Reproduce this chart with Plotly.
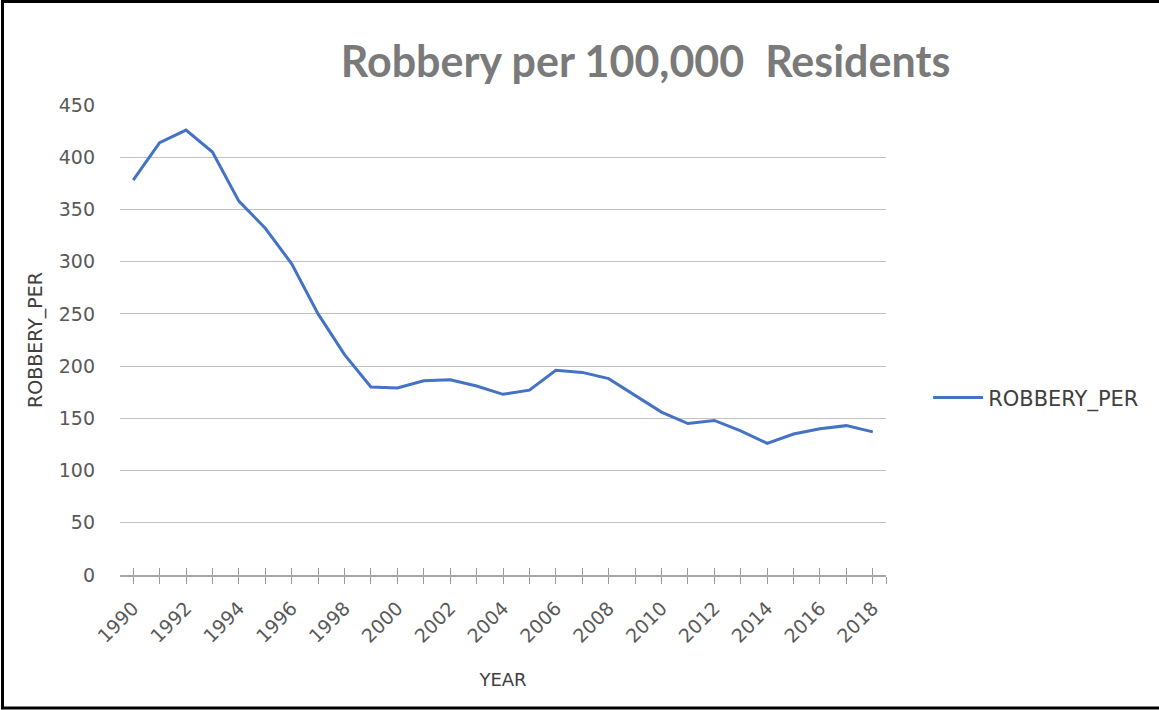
import plotly.graph_objects as go

# Robbery rate per 100,000 residents, 1990-2018
years = list(range(1990, 2019))
robbery_per = [378, 414, 426, 405, 358, 332, 298, 250, 211, 180,
               179, 186, 187, 181, 173, 177, 196, 194, 188, 172,
               156, 145, 148, 138, 126, 135, 140, 143, 137]
y_ticks = [0, 50, 100, 150, 200, 250, 300, 350, 400, 450]

tick_font = dict(family="DejaVu Sans", size=19, color="#595959")
x_range = [1989.5, 2018.5]

fig = go.Figure()
fig.add_trace(go.Scatter(
    x=years, y=robbery_per, mode="lines", name="ROBBERY_PER",
    line=dict(color="#4472C4", width=3), showlegend=True,
))
# hidden copy on the overlay axis so its inward tick marks render
fig.add_trace(go.Scatter(
    x=years, y=robbery_per, mode="lines", xaxis="x2",
    line=dict(width=0, color="rgba(0,0,0,0)"), showlegend=False, hoverinfo="skip",
))

tickvals = years + [2018.5]
ticktext = [str(y) if y % 2 == 0 else "" for y in years] + [""]

fig.update_layout(
    width=1159, height=710,
    paper_bgcolor="white", plot_bgcolor="white",
    margin=dict(l=120, r=273, t=105, b=135),
    title=dict(text="<b>Robbery per 100,000  Residents</b>",
               font=dict(family="Lato", size=43, color="#7a7a7a"),
               x=0.557, xanchor="center", y=0.913, yanchor="middle"),
    xaxis=dict(
        range=x_range, tickmode="array", tickvals=tickvals, ticktext=ticktext,
        tickangle=-45, ticks="outside", ticklen=7, tickwidth=1.2, tickcolor="#9a9a9a",
        showline=True, linecolor="#a6a6a6", linewidth=1.5, showgrid=False, zeroline=False,
        tickfont=tick_font, ticklabelstandoff=6,
        title=dict(text="YEAR", font=dict(family="DejaVu Sans", size=18, color="#404040"), standoff=28),
    ),
    xaxis2=dict(
        range=x_range, overlaying="x", anchor="y", side="bottom",
        tickmode="array", tickvals=years, ticks="inside", ticklen=7, tickwidth=1.2,
        tickcolor="#9a9a9a", showticklabels=False, showgrid=False, zeroline=False, showline=False,
    ),
    yaxis=dict(
        range=[0, 450], tickmode="array", tickvals=y_ticks,
        showgrid=True, gridcolor="#c2c2c2", gridwidth=1.4, zeroline=False, showline=False,
        ticks="", tickfont=tick_font, ticklabelstandoff=24,
        title=dict(text="ROBBERY_PER", font=dict(family="DejaVu Sans", size=19, color="#404040"), standoff=11),
    ),
    legend=dict(x=1.055, xanchor="left", y=0.377, yanchor="middle",
                font=dict(family="DejaVu Sans", size=21, color="#404040"),
                bgcolor="rgba(0,0,0,0)", itemwidth=50),
    shapes=[dict(type="rect", xref="paper", yref="paper",
                 x0=-0.1534, x1=1.36, y0=-0.283, y1=1.2202,
                 line=dict(color="black", width=3), layer="above")],
)

fig.write_html("out.html")
